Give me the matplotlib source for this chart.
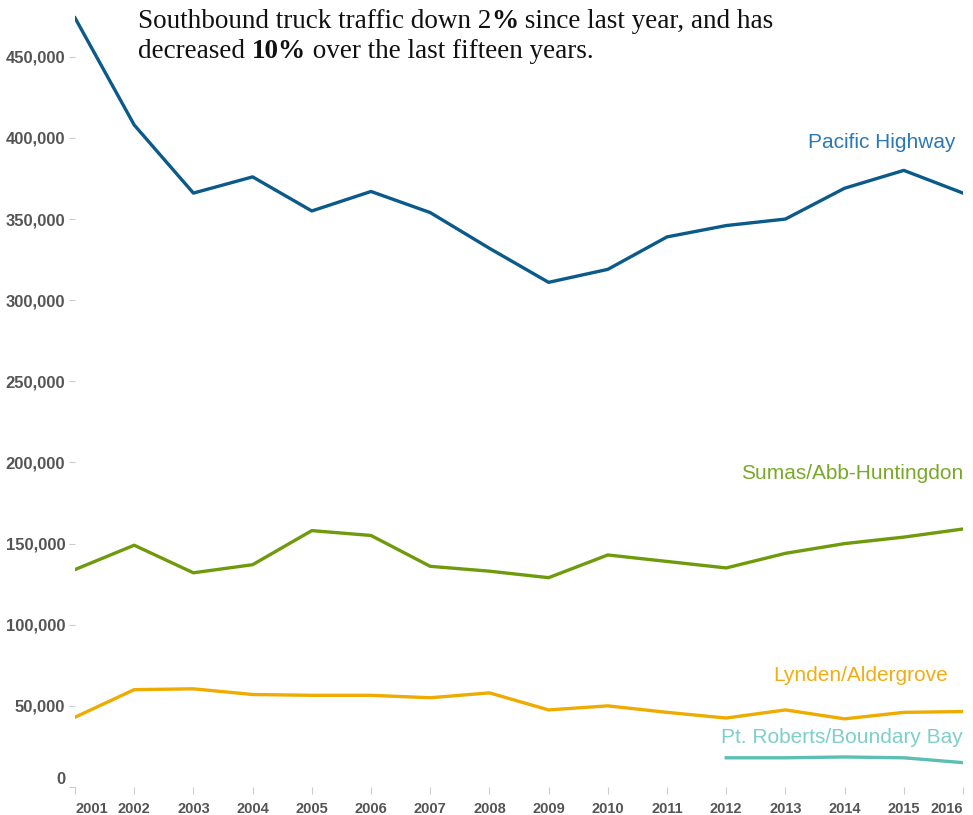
import matplotlib
matplotlib.use("Agg")
import matplotlib.pyplot as plt
from matplotlib.ticker import FuncFormatter

# southbound truck crossings by port
years = list(range(2001, 2017))
pacific = [474000, 408000, 366000, 376000, 355000, 367000, 354000, 332000,
           311000, 319000, 339000, 346000, 350000, 369000, 380000, 366000]
sumas = [134000, 149000, 132000, 137000, 158000, 155000, 136000, 133000,
         129000, 143000, 139000, 135000, 144000, 150000, 154000, 159000]
lynden = [43000, 60000, 60500, 57000, 56500, 56500, 55000, 58000,
          47500, 50000, 46000, 42500, 47500, 42000, 46000, 46500]
pt_years = [2012, 2013, 2014, 2015, 2016]
pt_roberts = [18000, 18000, 18500, 18000, 15000]

yticks = list(range(0, 450001, 50000))

plt.rcParams['font.family'] = ['Liberation Sans', 'DejaVu Sans']

fig = plt.figure(figsize=(9.73, 8.15), dpi=100)
ax = fig.add_axes([75 / 973, 28 / 815, 888 / 973, 787 / 815])

ax.plot(years, pacific, color="#0b5a8a", lw=2.4)
ax.plot(years, sumas, color="#6f9a0c", lw=2.4)
ax.plot(years, lynden, color="#eeab00", lw=2.4)
ax.plot(pt_years, pt_roberts, color="#5cbfb6", lw=2.4)

ax.set_xlim(2001, 2016)
ax.set_ylim(0, 485000)
for s in ax.spines.values():
    s.set_visible(False)

ax.set_yticks(yticks)
ax.yaxis.set_major_formatter(FuncFormatter(lambda v, p: f"{int(v):,}"))
ax.set_xticks(years)
ax.set_xticklabels([str(y) for y in years])
ax.tick_params(axis="y", length=4, width=0.8, color="#cccccc", pad=3,
               labelsize=12, labelcolor="#555555")
ax.tick_params(axis="x", length=5, width=0.8, color="#cccccc", pad=6,
               labelsize=10.5, labelcolor="#555555")
for lab in ax.get_yticklabels() + ax.get_xticklabels():
    lab.set_fontweight("bold")
ax.get_xticklabels()[0].set_horizontalalignment("left")
ax.get_xticklabels()[-1].set_horizontalalignment("right")
ax.get_yticklabels()[0].set_verticalalignment("bottom")

# series labels
ax.text(2015.87, 397000, "Pacific Highway", color="#2b78b5", fontsize=15,
        ha="right", va="center")
ax.text(2016, 193000, "Sumas/Abb-Huntingdon", color="#7aa82a", fontsize=15,
        ha="right", va="center")
ax.text(2015.75, 68500, "Lynden/Aldergrove", color="#f0ae14", fontsize=15,
        ha="right", va="center")
ax.text(2016, 30500, "Pt. Roberts/Boundary Bay", color="#7dcfcb", fontsize=15,
        ha="right", va="center")

# annotation with bold parts
renderer = fig.canvas.get_renderer()
W = fig.bbox.width


def rich_line(x, y, parts):
    for s, w in parts:
        t = fig.text(x, y, s, fontsize=19.5, fontweight=w, va="baseline",
                     family=["Liberation Serif", "DejaVu Serif"], color="#111111")
        x = t.get_window_extent(renderer).x1 / W


rich_line(138 / 973, 1 - 28 / 815,
          [("Southbound truck traffic down 2", "normal"), ("%", "bold"),
           (" since last year, and has", "normal")])
rich_line(138 / 973, 1 - 58 / 815,
          [("decreased ", "normal"), ("10%", "bold"),
           (" over the last fifteen years.", "normal")])

fig.savefig("out.png", dpi=100)
